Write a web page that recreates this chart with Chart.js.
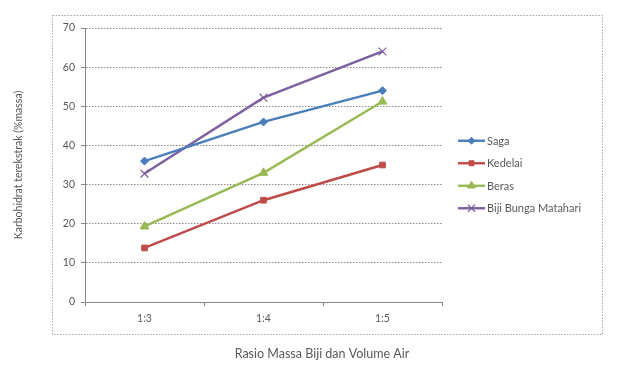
<!DOCTYPE html>
<html>
<head>
<meta charset="utf-8">
<script src="https://cdn.jsdelivr.net/npm/chart.js@4.4.1/dist/chart.umd.min.js"></script>
<style>
  html, body { margin: 0; padding: 0; background: #ffffff; }
  #wrap { width: 621px; height: 371px; position: relative; }
</style>
</head>
<body>
<div id="wrap"><canvas id="c" width="621" height="371"></canvas></div>
<script>
// Ratio of seed mass to water volume
const categories = ['1:3', '1:4', '1:5'];

// Extracted carbohydrate (% mass) per seed type
const saga = [36, 46, 54];
const kedelai = [13.8, 26, 35];
const beras = [19.3, 33, 51.2];
const bijiBungaMatahari = [32.8, 52.2, 64];

const seriesNames = ['Saga', 'Kedelai', 'Beras', 'Biji Bunga Matahari'];
const yTicks = [0, 10, 20, 30, 40, 50, 60, 70];

const FONT = 'Lato, "Open Sans", "DejaVu Sans", sans-serif';
const TEXT = '#595959';

function series(label, data, color, style, radius) {
  return {
    label, data,
    borderColor: color,
    backgroundColor: color,
    pointBackgroundColor: color,
    pointBorderColor: color,
    pointStyle: style,
    pointRadius: radius,
    pointBorderWidth: style === 'crossRot' ? 1.2 : 1,
    borderWidth: 2.4,
    tension: 0,
    fill: false
  };
}

// Dotted frame around the whole chart, custom legend and x-axis title
const decorations = {
  id: 'decorations',
  beforeDraw(chart) {
    const ctx = chart.ctx;
    ctx.save();
    ctx.fillStyle = '#ffffff';
    ctx.fillRect(0, 0, chart.width, chart.height);
    ctx.strokeStyle = '#a6a6a6';
    ctx.lineWidth = 1;
    ctx.setLineDash([1.5, 1.5]);
    ctx.strokeRect(52.5, 15.5, 550, 319);
    ctx.restore();
  },
  afterDraw(chart) {
    const ctx = chart.ctx;
    const area = chart.chartArea;
    ctx.save();
    // legend
    const n = chart.data.datasets.length;
    const step = 22.5;
    const x0 = area.right + 16;
    let y = (15 + 334) / 2 - step * (n - 1) / 2;
    ctx.font = '11px ' + FONT;
    ctx.textBaseline = 'middle';
    ctx.textAlign = 'left';
    chart.data.datasets.forEach(ds => {
      ctx.strokeStyle = ds.borderColor;
      ctx.lineWidth = 2.4;
      ctx.setLineDash([]);
      ctx.beginPath();
      ctx.moveTo(x0, y);
      ctx.lineTo(x0 + 27, y);
      ctx.stroke();
      ctx.fillStyle = ds.pointBackgroundColor;
      ctx.lineWidth = ds.pointBorderWidth;
      Chart.helpers.drawPoint(ctx, {
        pointStyle: ds.pointStyle, radius: ds.pointRadius - 0.5, borderWidth: ds.pointBorderWidth, rotation: 0
      }, x0 + 13.5, y);
      ctx.fillStyle = TEXT;
      ctx.fillText(ds.label, x0 + 29, y + 0.5);
      y += step;
    });
    // x-axis title
    ctx.font = '12.5px ' + FONT;
    ctx.fillStyle = TEXT;
    ctx.textAlign = 'center';
    ctx.fillText('Rasio Massa Biji dan Volume Air', 322, 354);
    ctx.restore();
  }
};

new Chart(document.getElementById('c'), {
  type: 'line',
  data: {
    labels: categories,
    datasets: [
      series(seriesNames[0], saga, '#4a7ebb', 'rectRot', 4),
      series(seriesNames[1], kedelai, '#be4b48', 'rect', 4),
      series(seriesNames[2], beras, '#98b954', 'triangle', 5),
      series(seriesNames[3], bijiBungaMatahari, '#7d60a0', 'crossRot', 5.5)
    ]
  },
  options: {
    responsive: false,
    animation: false,
    devicePixelRatio: 1,
    layout: { padding: { left: 0, right: 179, top: 28, bottom: 0 } },
    plugins: {
      legend: { display: false },
      tooltip: { enabled: false }
    },
    scales: {
      x: {
        offset: true,
        grid: {
          offset: true,
          drawOnChartArea: false,
          drawTicks: true,
          tickLength: 4,
          color: '#868686'
        },
        border: { display: true, color: '#868686', width: 1 },
        ticks: { color: TEXT, font: { family: FONT, size: 10.5 }, padding: 6 },
        afterFit(scale) { scale.height = 69; }
      },
      y: {
        min: 0,
        max: 70,
        afterBuildTicks(scale) { scale.ticks = yTicks.map(v => ({ value: v })); },
        grid: {
          color: '#8c8c8c',
          lineWidth: 1,
          drawTicks: true,
          tickLength: 4,
          tickColor: '#868686'
        },
        // dotted horizontal gridlines
        border: { display: true, color: '#868686', width: 1, dash: [1.5, 1.5] },
        ticks: { color: TEXT, font: { family: FONT, size: 10.5 }, padding: 6 },
        title: {
          display: true,
          text: 'Karbohidrat terekstrak (%massa)',
          color: TEXT,
          font: { family: FONT, size: 10.5 },
          padding: { top: 12, bottom: 0 }
        },
        afterFit(scale) { scale.width = 85; }
      }
    }
  },
  plugins: [decorations]
});
</script>
</body>
</html>
